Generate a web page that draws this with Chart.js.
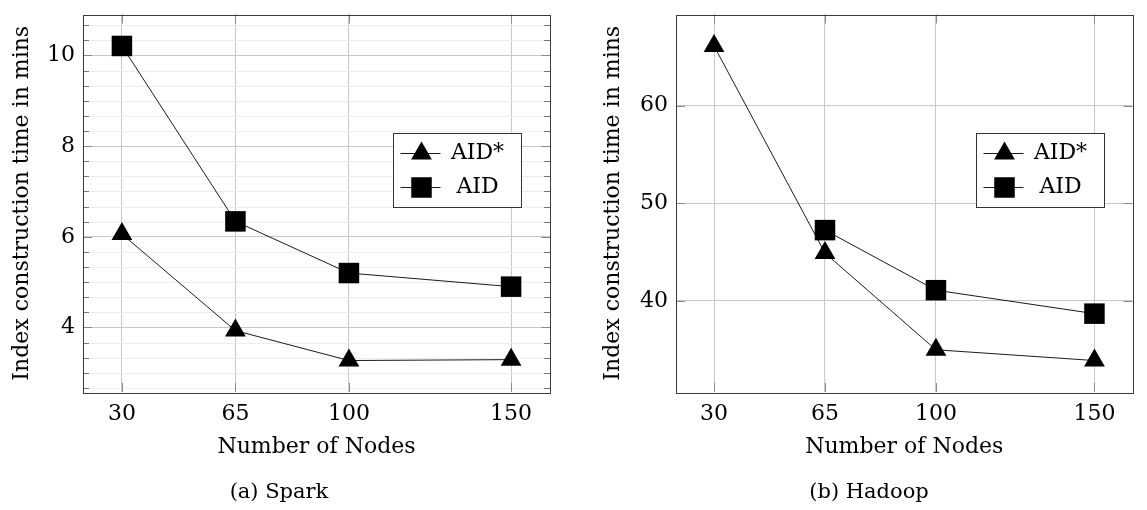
<!DOCTYPE html>
<html lang="en">
<head>
<meta charset="UTF-8">
<title>Index construction time</title>
<script src="https://cdn.jsdelivr.net/npm/chart.js"></script>
<style>
  body { margin: 0; background: #fff; width: 1147px; height: 510px; position: relative; overflow: hidden; font-family: "DejaVu Serif", serif; }
  .panel { position: absolute; top: 0; height: 510px; }
  #spark { left: 0; width: 567px; }
  #hadoop { left: 567px; width: 580px; }
  .caption { position: absolute; top: 479px; font-size: 21px; transform: translateX(-50%); white-space: nowrap; color: #000; }
</style>
</head>
<body>
<div class="panel" id="spark"><canvas id="sparkChart" width="567" height="510"></canvas></div>
<div class="panel" id="hadoop"><canvas id="hadoopChart" width="580" height="510"></canvas></div>
<div class="caption" style="left:279px">(a) Spark</div>
<div class="caption" style="left:869px">(b) Hadoop</div>

<script>
// values
const nodes = [30, 65, 100, 150];
const seriesLabels = ['AID*', 'AID'];
const sparkAidStar = [6.06, 3.93, 3.27, 3.29];
const sparkAid = [10.21, 6.34, 5.20, 4.90];
const hadoopAidStar = [66.1, 44.9, 35.0, 33.9];
const hadoopAid = [null, 47.25, 41.1, 38.7];
const sparkYTicks = [4, 6, 8, 10];
const hadoopYTicks = [40, 50, 60];
const sparkMinorNum = 5;   // minor ticks between two major ones
const hadoopMinorNum = 0;

Chart.defaults.font.family = '"DejaVu Serif", serif';
Chart.defaults.font.size = 22;
Chart.defaults.color = '#000';

// pgfplots style: 10% padding around the data
function padRange(values) {
    const v = values.filter(d => d != null);
    const lo = Math.min(...v), hi = Math.max(...v);
    const pad = (hi - lo) * 0.1;
    return [lo - pad, hi + pad];
}

function points(ys) {
    return nodes.map((x, i) => ({ x: x, y: ys[i] })).filter(p => p.y != null);
}

function minorValues(ticks, num, min, max) {
    if (!num) return [];
    const step = (ticks[1] - ticks[0]) / (num + 1);
    const out = [];
    let v = ticks[0] - Math.floor((ticks[0] - min) / step) * step;
    for (; v < max; v += step) {
        const nearMajor = ticks.some(t => Math.abs(t - v) < step / 10);
        if (!nearMajor) out.push(v);
    }
    return out;
}

const framePlugin = {
    id: 'frame',
    beforeDatasetsDraw(chart, args, opts) {
        const { ctx, chartArea: a, scales } = chart;
        const px = v => Math.round(v) + 0.5;
        ctx.save();
        ctx.lineWidth = 1;
        // minor grid + minor tick marks
        const minors = minorValues(opts.yTicks, opts.minorNum, scales.y.min, scales.y.max);
        minors.forEach(v => {
            const y = px(scales.y.getPixelForValue(v));
            ctx.strokeStyle = '#ededed';
            ctx.beginPath(); ctx.moveTo(a.left, y); ctx.lineTo(a.right, y); ctx.stroke();
            ctx.strokeStyle = '#777';
            ctx.beginPath();
            ctx.moveTo(a.left, y); ctx.lineTo(a.left + 6, y);
            ctx.moveTo(a.right, y); ctx.lineTo(a.right - 6, y);
            ctx.stroke();
        });
        // major tick marks inside the box
        ctx.strokeStyle = '#8a8a8a';
        ctx.beginPath();
        opts.yTicks.forEach(v => {
            const y = px(scales.y.getPixelForValue(v));
            ctx.moveTo(a.left, y); ctx.lineTo(a.left + 9, y);
            ctx.moveTo(a.right, y); ctx.lineTo(a.right - 9, y);
        });
        nodes.forEach(v => {
            const x = px(scales.x.getPixelForValue(v));
            ctx.moveTo(x, a.bottom); ctx.lineTo(x, a.bottom - 9);
            ctx.moveTo(x, a.top); ctx.lineTo(x, a.top + 9);
        });
        ctx.stroke();
        // axis box
        ctx.strokeStyle = '#3a3a3a';
        ctx.strokeRect(px(a.left), px(a.top), Math.round(a.right - a.left), Math.round(a.bottom - a.top));
        ctx.restore();
    }
};

const legendPlugin = {
    id: 'boxLegend',
    afterDraw(chart) {
        const { ctx, chartArea: a } = chart;
        const w = 128, h = 74;
        const bx = Math.round(a.right - 29 - w) + 0.5;
        const by = Math.round(a.top + 118) + 0.5;
        ctx.save();
        ctx.fillStyle = '#fff';
        ctx.strokeStyle = '#333';
        ctx.lineWidth = 1;
        ctx.fillRect(bx, by, w, h);
        ctx.strokeRect(bx, by, w, h);
        chart.data.datasets.forEach((ds, i) => {
            const ry = by + 20 + i * 34;
            ctx.strokeStyle = '#000';
            ctx.lineWidth = 0.9;
            ctx.beginPath(); ctx.moveTo(bx + 7, ry); ctx.lineTo(bx + 47, ry); ctx.stroke();
            ctx.fillStyle = '#000';
            Chart.helpers.drawPoint(ctx, { pointStyle: ds.pointStyle, radius: ds.pointRadius, rotation: 0, borderWidth: 0 }, bx + 28, ry);
            ctx.font = '22px "DejaVu Serif", serif';
            ctx.textAlign = 'center';
            ctx.textBaseline = 'middle';
            ctx.fillText(ds.label, bx + 84, ry);
        });
        ctx.restore();
    }
};

function makeChart(id, aidStar, aid, yTicks, minorNum, yWidth, titlePad, padRight) {
    const [ymin, ymax] = padRange(aidStar.concat(aid));
    const [xmin, xmax] = padRange(nodes);
    const series = (label, ys, style, r) => ({
        label: label,
        data: points(ys),
        borderColor: '#000',
        borderWidth: 0.9,
        backgroundColor: '#000',
        pointStyle: style,
        pointRadius: r,
        pointBorderWidth: 0,
        pointBackgroundColor: '#000',
        clip: false
    });
    return new Chart(document.getElementById(id), {
        type: 'line',
        data: {
            datasets: [
                series(seriesLabels[0], aidStar, 'triangle', 12),
                series(seriesLabels[1], aid, 'rect', 14.5)
            ]
        },
        options: {
            responsive: false,
            animation: false,
            events: [],
            layout: { padding: { left: 0, top: 5, right: padRight, bottom: 48 } },
            plugins: {
                legend: { display: false },
                tooltip: { enabled: false },
                frame: { yTicks: yTicks, minorNum: minorNum }
            },
            scales: {
                x: {
                    type: 'linear',
                    min: xmin,
                    max: xmax,
                    afterBuildTicks: s => { s.ticks = nodes.map(v => ({ value: v })); },
                    afterFit: s => { s.height = 70; s.paddingLeft = 0; s.paddingRight = 0; },
                    grid: { color: '#c8c8c8', lineWidth: 1, drawTicks: false },
                    border: { display: false },
                    ticks: { padding: 9, maxRotation: 0, autoSkip: false },
                    title: { display: true, text: 'Number of Nodes', padding: { top: 0, bottom: 2 } }
                },
                y: {
                    type: 'linear',
                    min: ymin,
                    max: ymax,
                    afterBuildTicks: s => { s.ticks = yTicks.map(v => ({ value: v })); },
                    afterFit: s => { s.width = yWidth; s.paddingTop = 0; s.paddingBottom = 0; },
                    grid: { color: '#c8c8c8', lineWidth: 1, drawTicks: false },
                    border: { display: false },
                    ticks: { padding: 8, autoSkip: false },
                    title: { display: true, text: 'Index construction time in mins', padding: { top: titlePad, bottom: 0 } }
                }
            }
        },
        plugins: [framePlugin, legendPlugin]
    });
}

makeChart('sparkChart', sparkAidStar, sparkAid, sparkYTicks, sparkMinorNum, 83, 9, 17);
makeChart('hadoopChart', hadoopAidStar, hadoopAid, hadoopYTicks, hadoopMinorNum, 109, 33, 4);
</script>
</body>
</html>
